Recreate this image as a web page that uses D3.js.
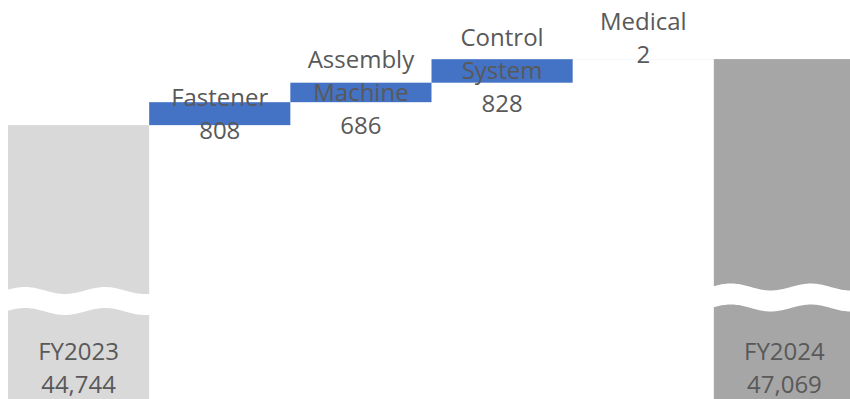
<!DOCTYPE html>
<html>
<head>
<meta charset="utf-8">
<script src="https://cdn.jsdelivr.net/npm/d3@7"></script>
<style>
  html, body { margin: 0; padding: 0; background: #ffffff; }
  svg { display: block; }
</style>
</head>
<body>
<svg id="chart" width="850" height="399"></svg>
<script>
// Revenue bridge FY2023 -> FY2024 by segment
const categories = ["FY2023", "Fastener", "Assembly Machine", "Control System", "Medical", "FY2024"];
const labelLines = [["FY2023"], ["Fastener"], ["Assembly", "Machine"], ["Control", "System"], ["Medical"], ["FY2024"]];
const values = [44744, 808, 686, 828, 2, 47069];
const kinds = ["total", "delta", "delta", "delta", "delta", "total"];

const W = 850, H = 399;
const svg = d3.select("#chart");

const colors = { start: "#D9D9D9", delta: "#4472C4", end: "#A6A6A6" };
const textColor = "#595959";
const fontFamily = "'Open Sans', 'Noto Sans', sans-serif";
const fontSize = 24;
const lineH = 33;

// Running totals for the floating steps
let running = 0;
const rows = categories.map((c, i) => {
  let lo, hi;
  if (kinds[i] === "total") {
    lo = 0; hi = values[i]; running = values[i];
  } else {
    lo = running; hi = running + values[i]; running = hi;
  }
  return { cat: c, lines: labelLines[i], value: values[i], kind: kinds[i], lo, hi, i };
});

const x = d3.scaleBand().domain(categories).range([8, 855]).padding(0);
// Value axis starts well above zero; the totals are shown with a break
const y = d3.scaleLinear().domain([35100, 49150]).range([H, 0]);

const fmt = d3.format(",");

function barColor(d) {
  if (d.kind === "delta") return colors.delta;
  return d.i === 0 ? colors.start : colors.end;
}

svg.append("g").selectAll("rect")
  .data(rows)
  .join("rect")
  .attr("x", d => x(d.cat))
  .attr("width", x.bandwidth())
  .attr("y", d => d.kind === "total" ? y(d.hi) : y(d.hi))
  .attr("height", d => d.kind === "total" ? H - y(d.hi) : Math.max(0, y(d.lo) - y(d.hi)))
  .attr("fill", barColor);

// Wavy axis-break band across the total bars
const breakCenter = { 0: 290.5, 5: 287 };
const amp = 3.5, period = 80, gap = 21;
rows.filter(d => d.kind === "total").forEach(d => {
  const x0 = x(d.cat), x1 = x0 + x.bandwidth();
  const cy = breakCenter[d.i];
  const pts = d3.range(x0 - 1, x1 + 2, 1.5);
  const edge = px => cy - amp * Math.cos(2 * Math.PI * (px - x0 - 17) / period);
  const top = pts.map(px => [px, edge(px)]);
  const bottom = pts.slice().reverse().map(px => [px, edge(px) + gap]);
  svg.append("path")
    .attr("d", d3.line().curve(d3.curveLinear)(top.concat(bottom)) + "Z")
    .attr("fill", "#ffffff");
});

// Data labels
const labels = svg.append("g")
  .attr("font-family", fontFamily)
  .attr("font-size", fontSize)
  .attr("fill", textColor)
  .attr("text-anchor", "middle");

rows.forEach(d => {
  const cx = x(d.cat) + x.bandwidth() / 2;
  const lines = d.lines.concat([fmt(d.value)]);
  let firstBaseline;
  if (d.kind === "total") {
    // anchored at the inside base of the bar
    firstBaseline = H - 6 - (lines.length - 1) * lineH;
  } else {
    const top = y(d.hi), bot = y(d.lo);
    let cyl = (top + bot) / 2;
    if (bot - top < 4) cyl -= 21; // tiny step: lift label clear of the connector level
    firstBaseline = cyl - (lines.length - 1) * lineH / 2 + 8.5;
  }
  const t = labels.append("text");
  lines.forEach((ln, k) => {
    t.append("tspan")
      .attr("x", cx)
      .attr("y", firstBaseline + k * lineH)
      .text(ln);
  });
});
</script>
</body>
</html>
